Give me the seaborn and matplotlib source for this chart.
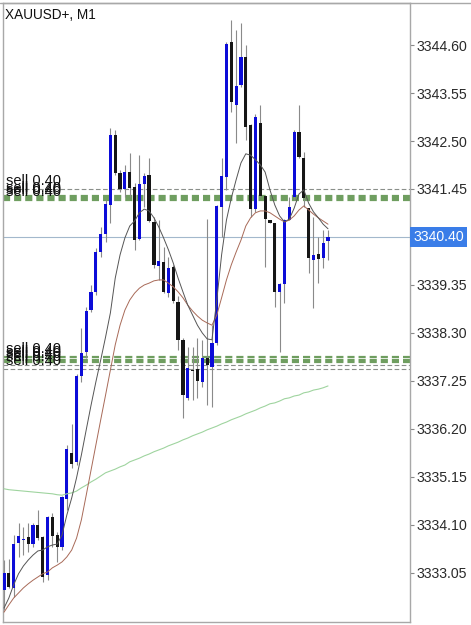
import numpy as np
import pandas as pd
import matplotlib
matplotlib.use("Agg")
import matplotlib.pyplot as plt
from matplotlib.lines import Line2D
import seaborn as sns

# ---------------- data ----------------
title = "XAUUSD+, M1"

opens = [3332.68, 3333.05, 3332.72, 3333.70, 3333.77, 3333.84, 3333.68, 3334.10, 3333.84, 3333.00,
         3334.27, 3333.88, 3333.62, 3334.67, 3335.67, 3335.48, 3337.36, 3337.88, 3338.80, 3339.20,
         3340.07, 3340.47, 3341.10, 3342.63, 3341.80, 3341.45, 3341.82, 3341.49, 3340.36, 3341.56,
         3341.76, 3340.73, 3339.77, 3339.85, 3339.17, 3339.74, 3338.98, 3338.15, 3336.88, 3337.49,
         3337.51, 3337.23, 3337.75, 3337.55, 3338.08, 3341.06, 3341.72, 3344.67, 3343.29, 3343.72,
         3344.34, 3342.85, 3341.01, 3342.89, 3341.30, 3340.77, 3340.71, 3339.20, 3339.37, 3340.77,
         3341.28, 3342.70, 3342.13, 3341.03, 3339.90, 3340.03, 3339.94, 3340.31]
highs = [3333.33, 3333.35, 3333.88, 3334.14, 3334.05, 3334.14, 3334.14, 3334.43, 3333.86, 3334.29,
         3334.35, 3333.94, 3334.73, 3335.85, 3336.31, 3337.40, 3338.41, 3338.87, 3339.35, 3340.16,
         3340.62, 3341.21, 3342.78, 3342.74, 3341.87, 3341.98, 3342.24, 3341.58, 3342.20, 3341.80,
         3342.13, 3340.84, 3340.77, 3340.18, 3339.96, 3339.79, 3339.11, 3338.18, 3337.99, 3337.99,
         3338.18, 3338.15, 3340.79, 3338.47, 3341.10, 3342.13, 3344.67, 3345.15, 3344.93, 3345.08,
         3344.60, 3342.87, 3343.10, 3343.29, 3341.30, 3340.77, 3340.71, 3339.39, 3340.79, 3341.28,
         3342.74, 3343.29, 3342.26, 3341.03, 3340.84, 3340.40, 3340.55, 3340.55]
lows = [3332.24, 3332.72, 3332.52, 3333.40, 3333.44, 3333.50, 3333.62, 3333.77, 3332.85, 3332.90,
        3333.62, 3333.29, 3333.55, 3334.43, 3335.35, 3335.42, 3337.23, 3337.75, 3338.76, 3339.13,
        3339.96, 3340.29, 3340.71, 3341.76, 3341.38, 3341.28, 3341.28, 3340.12, 3340.33, 3341.06,
        3340.73, 3339.72, 3339.46, 3339.17, 3339.09, 3338.96, 3337.93, 3336.44, 3336.83, 3336.83,
        3336.88, 3337.12, 3336.72, 3336.68, 3338.04, 3340.40, 3341.43, 3343.13, 3342.46, 3343.68,
        3342.52, 3340.84, 3340.95, 3341.28, 3339.74, 3340.71, 3338.87, 3337.88, 3338.96, 3340.77,
        3341.21, 3342.13, 3341.06, 3339.61, 3338.85, 3339.39, 3339.72, 3339.90]
closes = [3333.05, 3332.74, 3333.68, 3333.86, 3333.77, 3333.68, 3334.10, 3333.82, 3332.96, 3334.27,
          3333.86, 3333.62, 3334.71, 3335.76, 3335.43, 3337.36, 3337.86, 3338.78, 3339.20, 3340.07,
          3340.47, 3341.12, 3342.63, 3341.80, 3341.45, 3341.82, 3341.47, 3340.33, 3341.56, 3341.74,
          3340.75, 3339.79, 3339.88, 3339.20, 3339.72, 3339.00, 3338.15, 3336.94, 3337.53, 3337.47,
          3337.25, 3337.75, 3337.60, 3338.08, 3341.08, 3341.74, 3344.62, 3343.35, 3343.70, 3344.34,
          3342.81, 3341.01, 3343.03, 3341.30, 3340.79, 3340.71, 3339.20, 3339.37, 3340.77, 3341.06,
          3342.70, 3342.15, 3341.25, 3339.94, 3340.01, 3339.92, 3340.27, 3340.40]

ma_fast = [3332.28, 3332.50, 3332.79, 3333.03, 3333.20, 3333.33, 3333.44, 3333.53, 3333.55, 3333.62,
           3333.66, 3333.68, 3333.88, 3334.32, 3334.69, 3335.13, 3335.63, 3336.18, 3336.72, 3337.23,
           3337.71, 3338.21, 3338.74, 3339.50, 3340.01, 3340.38, 3340.64, 3340.75, 3340.93, 3341.01,
           3340.97, 3340.82, 3340.62, 3340.38, 3340.12, 3339.83, 3339.50, 3339.20, 3338.91, 3338.69,
           3338.47, 3338.30, 3338.17, 3338.15, 3339.02, 3340.01, 3340.77, 3341.25, 3341.65, 3342.02,
           3342.22, 3342.19, 3342.09, 3341.98, 3341.82, 3341.43, 3341.10, 3340.86, 3340.73, 3340.79,
           3341.03, 3341.34, 3341.43, 3341.14, 3340.95, 3340.82, 3340.68, 3340.58]
ma_mid = [3332.19, 3332.35, 3332.50, 3332.61, 3332.72, 3332.81, 3332.89, 3332.96, 3333.03, 3333.07,
          3333.16, 3333.22, 3333.29, 3333.40, 3333.55, 3333.81, 3334.21, 3334.75, 3335.30, 3335.85,
          3336.40, 3336.94, 3337.49, 3338.04, 3338.47, 3338.80, 3339.02, 3339.17, 3339.28, 3339.35,
          3339.39, 3339.44, 3339.46, 3339.46, 3339.39, 3339.31, 3339.20, 3339.07, 3338.91, 3338.78,
          3338.67, 3338.58, 3338.52, 3338.47, 3338.69, 3339.07, 3339.46, 3339.79, 3340.07, 3340.33,
          3340.64, 3340.82, 3340.93, 3340.97, 3340.97, 3340.93, 3340.86, 3340.79, 3340.73, 3340.77,
          3340.86, 3340.99, 3341.08, 3340.99, 3340.90, 3340.82, 3340.75, 3340.68]
ma_slow = [3334.89, 3334.87, 3334.86, 3334.85, 3334.84, 3334.83, 3334.82, 3334.81, 3334.80, 3334.79,
           3334.78, 3334.76, 3334.75, 3334.78, 3334.80, 3334.84, 3334.91, 3334.97, 3335.04, 3335.10,
           3335.17, 3335.24, 3335.28, 3335.32, 3335.37, 3335.41, 3335.48, 3335.52, 3335.56, 3335.61,
           3335.65, 3335.70, 3335.74, 3335.78, 3335.83, 3335.87, 3335.91, 3335.96, 3336.00, 3336.05,
           3336.09, 3336.13, 3336.18, 3336.22, 3336.26, 3336.31, 3336.35, 3336.40, 3336.44, 3336.48,
           3336.53, 3336.57, 3336.61, 3336.66, 3336.70, 3336.75, 3336.77, 3336.81, 3336.86, 3336.88,
           3336.92, 3336.94, 3336.99, 3337.01, 3337.05, 3337.07, 3337.10, 3337.14]

sell_prices = [3341.45, 3341.29, 3341.25, 3341.21, 3337.77, 3337.71, 3337.66, 3337.60, 3337.51]
sell_kinds = ["grey", "green", "green", "green", "green", "green", "green", "grey", "grey"]
sell_label = "sell 0.40"
current_price = 3340.40
y_ticks = [3333.05, 3334.10, 3335.15, 3336.20, 3337.25, 3338.30, 3339.35,
           3340.40, 3341.45, 3342.50, 3343.55, 3344.60]

# ---------------- styling ----------------
sns.set_theme(style="white")
plt.rcParams["font.family"] = ["Liberation Sans", "DejaVu Sans"]

W, H = 471, 625
fig = plt.figure(figsize=(W / 100, H / 100), dpi=100)
ax = fig.add_axes([3 / W, 3 / H, 407 / W, 619 / H])

df = pd.DataFrame(dict(i=np.arange(len(opens)), open=opens, high=highs,
                       low=lows, close=closes, fast=ma_fast, mid=ma_mid, slow=ma_slow))
up = df.close >= df.open
body = np.maximum((df.close - df.open).abs(), 0.03)
bottom = np.minimum(df.open, df.close)

ax.axhline(current_price, color="#a3b8cc", lw=0.8, zorder=1)

for p, k in zip(sell_prices, sell_kinds):
    if k == "green":
        ax.axhline(p, color="#6f9e60", lw=1.6, dashes=(3.2, 1.8), zorder=1.5)
    else:
        ax.axhline(p, color="#8a8f8a", lw=0.8, dashes=(4.2, 2.2), zorder=1.5)
    ax.text(0.35, p + 0.02, sell_label, fontsize=10.5, color="#111111",
            va="bottom", ha="left", zorder=6)

ax.vlines(df.i, df.low, df.high, color="#8a8a8a", lw=0.8, zorder=2)
ax.bar(df.i[up], body[up], bottom=bottom[up], width=0.66, color="#0c0cd8", lw=0, zorder=3)
ax.bar(df.i[~up], body[~up], bottom=bottom[~up], width=0.66, color="#161616", lw=0, zorder=3)

sns.lineplot(data=df, x="i", y="slow", ax=ax, color="#9fd49f", lw=0.8, zorder=4)
sns.lineplot(data=df, x="i", y="mid", ax=ax, color="#a86a58", lw=0.7, zorder=4)
sns.lineplot(data=df, x="i", y="fast", ax=ax, color="#555555", lw=0.7, zorder=4)

ax.set_xlim(-0.21, 83.96)
ax.set_ylim(3331.975, 3345.52)
ax.set_xlabel("")
ax.set_ylabel("")
ax.set_xticks([])
ax.yaxis.tick_right()
ax.set_yticks(y_ticks)
ax.set_yticklabels(["" if abs(t - current_price) < 1e-6 else f"{t:.2f}" for t in y_ticks])
ax.tick_params(axis="y", direction="out", length=3, width=0.8, color="#888888",
               labelsize=10.2, labelcolor="#2a2a2a", pad=1.5, right=True, left=False)
for s in ax.spines.values():
    s.set_color("#a8a8a8")
    s.set_linewidth(1.0)

ax.text(1.008, current_price, f"{current_price:.2f}", transform=ax.get_yaxis_transform(),
        fontsize=10.2, color="white", va="center", ha="left", zorder=7,
        bbox=dict(boxstyle="square,pad=0.2", fc="#3a7de8", ec="none"))

fig.add_artist(Line2D([0, 1], [1 - 3 / H, 1 - 3 / H], transform=fig.transFigure,
                      color="#a8a8a8", lw=1.0))
fig.text(5 / W, 1 - 15 / H, title, fontsize=9.8, color="#111111", va="center", ha="left")

fig.savefig("out.png", dpi=100)
